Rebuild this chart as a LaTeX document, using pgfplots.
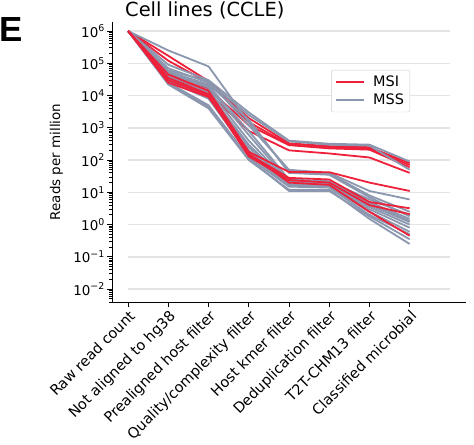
\documentclass[border=0pt]{standalone}
\usepackage{fontspec}
\setmainfont{DejaVu Sans}
\newfontfamily\lsans{Liberation Sans}
\usepackage{pgfplots}
\usepackage{pgfplotstable}
\pgfplotsset{compat=1.18}
\definecolor{msi}{RGB}{238,32,58}
\definecolor{mss}{RGB}{139,151,174}
\definecolor{gridc}{RGB}{228,228,228}

\pgfplotstableread{
x r1 r2 r3 r4 r5 r6 r7 r8
0 1e6 1e6 1e6 1e6 1e6 1e6 1e6 1e6
1 1.7e5 1.2e5 5e4 4e4 4.5e4 3.5e4 3e4 2.5e4
2 2.8e4 2.5e4 1.6e4 1.2e4 1.4e4 1.1e4 1e4 9e3
3 2e3 1.5e3 1.2e3 8e2 1.8e2 1.5e2 1.3e2 1.6e2
4 330 300 290 200 43 28 24 20
5 270 250 230 160 42 25 20 17
6 250 230 210 120 20 5 4 2.5
7 80 70 60 40 11 3.2 2.1 0.45
}\msidata

\pgfplotstableread{
x g1 g2 g3 g4 g5 g6 g7 g8 g9 g10 g11 g12 g13 g14 g15
0 1e6 1e6 1e6 1e6 1e6 1e6 1e6 1e6 1e6 1e6 1e6 1e6 1e6 1e6 1e6
1 2.5e5 9e4 7e4 6e4 5e4 4.5e4 4e4 3.5e4 3e4 2.8e4 2.5e4 2.2e4 2.3e4 5.5e4 3.2e4
2 8e4 3e4 2.5e4 2.8e4 2e4 1.8e4 1.5e4 1.2e4 1e4 8e3 5e3 4e3 4.5e3 2.2e4 1.3e4
3 1.5e3 3e3 2.5e3 1.2e3 8e2 6e2 4e2 3e2 2e2 1.5e2 1.2e2 1e2 1.1e2 1.8e3 2.5e2
4 45 400 380 50 25 22 20 18 17 16 15 12 11 40 19
5 38 320 300 40 22 20 18 17 16 15 14 12 11 35 19
6 8 300 280 11 6 5 4 3.5 3 2.5 2 1.5 1.8 7 4.5
7 2.5 90 50 6 2 1.5 1.2 1.0 0.8 0.6 0.5 0.25 0.35 1.8 1.3
}\mssdata

\begin{document}
\begin{tikzpicture}[x=1bp,y=1bp]
\path[use as bounding box] (-112,-143) rectangle (362,302);
\begin{axis}[
  at={(0,0)}, anchor=south west, scale only axis,
  width=354bp, height=280bp,
  ymode=log,
  xmin=-0.4, xmax=8.4, ymin=3.98e-3, ymax=1.905e6,
  axis x line*=bottom, axis y line*=left,
  axis line style={line width=0.9bp, -},
  tick align=outside, major tick length=5bp, minor tick length=2.6bp,
  every tick/.style={line width=0.8bp, black},
  xtick={0,1,2,3,4,5,6,7},
  xticklabels={Raw read count, Not aligned to hg38, Prealigned host filter, Quality/complexity filter, Host kmer filter, Deduplication filter, T2T-CHM13 filter, Classified microbial},
  xticklabel style={rotate=45, anchor=north east, inner sep=1.5bp, font=\fontsize{14.5}{17}\selectfont},
  ytick={1e-2,1e-1,1,10,100,1e3,1e4,1e5,1e6},
  yticklabels={10\textsuperscript{−2},10\textsuperscript{−1},10\textsuperscript{0},10\textsuperscript{1},10\textsuperscript{2},10\textsuperscript{3},10\textsuperscript{4},10\textsuperscript{5},10\textsuperscript{6}},
  yticklabel style={font=\fontsize{13.5}{16}\selectfont, inner sep=2bp},
  minor ytick={4e-3,5e-3,6e-3,7e-3,8e-3,9e-3,
    2e-2,3e-2,4e-2,5e-2,6e-2,7e-2,8e-2,9e-2,
    2e-1,3e-1,4e-1,5e-1,6e-1,7e-1,8e-1,9e-1,
    2,3,4,5,6,7,8,9,
    20,30,40,50,60,70,80,90,
    200,300,400,500,600,700,800,900,
    2e3,3e3,4e3,5e3,6e3,7e3,8e3,9e3,
    2e4,3e4,4e4,5e4,6e4,7e4,8e4,9e4,
    2e5,3e5,4e5,5e5,6e5,7e5,8e5,9e5},
  ylabel={Reads per million},
  ylabel style={at={(axis description cs:-0.138,0.5)}, anchor=south, inner sep=0pt, font=\fontsize{13.5}{16}\selectfont},
  legend style={at={(0.619,0.829)}, anchor=north west, draw=black!20, rounded corners=2bp, fill=white,
    font=\fontsize{14.5}{17}\selectfont, inner xsep=4bp, inner ysep=3.5bp, row sep=2.5bp},
  legend cell align=left,
  legend image code/.code={\draw[#1, line width=1.8bp] (0bp,0bp) -- (28bp,0bp);},
]
\addlegendimage{msi}
\addlegendentry{\hspace*{6bp}MSI}
\addlegendimage{mss}
\addlegendentry{\hspace*{6bp}MSS}
\pgfplotsinvokeforeach{-2,...,6}{
  \addplot[gridc, line width=1.5bp, forget plot] coordinates {(0,1e#1) (8,1e#1)};
}
\pgfplotsinvokeforeach{1,...,4}{
  \addplot[msi, line width=1.8bp, line join=round, forget plot] table[x=x, y=r#1]{\msidata};
}
\pgfplotsinvokeforeach{1,...,15}{
  \addplot[mss, line width=1.8bp, line join=round, forget plot] table[x=x, y=g#1]{\mssdata};
}
\pgfplotsinvokeforeach{5,...,8}{
  \addplot[msi, line width=1.8bp, line join=round, forget plot] table[x=x, y=r#1]{\msidata};
}
\end{axis}
\node[anchor=base west, inner sep=0pt, font=\fontsize{19.5}{23}\selectfont] at (13,285.5) {Cell lines (CCLE)};
\node[anchor=base west, inner sep=0pt, font=\lsans\bfseries\fontsize{35}{40}\selectfont] at (-112.5,260) {E};
\end{tikzpicture}
\end{document}
